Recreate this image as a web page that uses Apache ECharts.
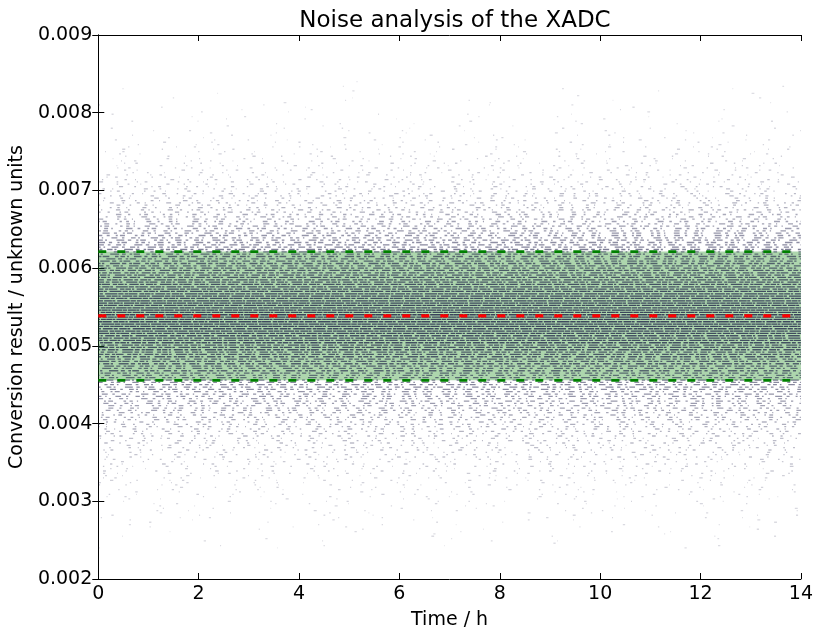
<!DOCTYPE html>
<html><head><meta charset="utf-8">
<script src="https://cdn.jsdelivr.net/npm/echarts@6/dist/echarts.min.js"></script>
<style>html,body{margin:0;padding:0;background:#fff}#c{width:816px;height:635px}</style>
</head><body><div id="c"></div>
<script>
// Time span of the measurement (h)
var timeSpan = [0, 14];
// Quantized conversion levels seen in the scatter
var levels = [
0.00240,0.00243,0.00246,0.00249,0.00252,0.00255,0.00258,0.00261,0.00264,0.00267,
0.00270,0.00273,0.00276,0.00279,0.00282,0.00285,0.00288,0.00291,0.00294,0.00297,
0.00300,0.00303,0.00306,0.00309,0.00312,0.00315,0.00318,0.00321,0.00324,0.00327,
0.00330,0.00333,0.00336,0.00339,0.00342,0.00345,0.00348,0.00351,0.00354,0.00357,
0.00360,0.00363,0.00366,0.00369,0.00372,0.00375,0.00378,0.00381,0.00384,0.00387,
0.00390,0.00393,0.00396,0.00399,0.00402,0.00405,0.00408,0.00411,0.00414,0.00417,
0.00420,0.00423,0.00426,0.00429,0.00432,0.00435,0.00438,0.00441,0.00444,0.00447,
0.00450,0.00453,0.00456,0.00459,0.00462,0.00465,0.00468,0.00471,0.00474,0.00477,
0.00480,0.00483,0.00486,0.00489,0.00492,0.00495,0.00498,0.00501,0.00504,0.00507,
0.00510,0.00513,0.00516,0.00519,0.00522,0.00525,0.00528,0.00531,0.00534,0.00537,
0.00540,0.00543,0.00546,0.00549,0.00552,0.00555,0.00558,0.00561,0.00564,0.00567,
0.00570,0.00573,0.00576,0.00579,0.00582,0.00585,0.00588,0.00591,0.00594,0.00597,
0.00600,0.00603,0.00606,0.00609,0.00612,0.00615,0.00618,0.00621,0.00624,0.00627,
0.00630,0.00633,0.00636,0.00639,0.00642,0.00645,0.00648,0.00651,0.00654,0.00657,
0.00660,0.00663,0.00666,0.00669,0.00672,0.00675,0.00678,0.00681,0.00684,0.00687,
0.00690,0.00693,0.00696,0.00699,0.00702,0.00705,0.00708,0.00711,0.00714,0.00717,
0.00720,0.00723,0.00726,0.00729,0.00732,0.00735,0.00738,0.00741,0.00744,0.00747,
0.00750,0.00753,0.00756,0.00759,0.00762,0.00765,0.00768,0.00771,0.00774,0.00777,
0.00780,0.00783,0.00786,0.00789,0.00792,0.00795,0.00798,0.00801,0.00804,0.00807,
0.00810,0.00813,0.00816,0.00819,0.00822,0.00825,0.00828,0.00831,0.00834,0.00837,
0.00840
];
// Fraction of time each level is occupied (read from dot density)
var density = [
0.004,0.006,0.003,0.008,0.005,0.007,0.004,0.009,0.006,0.008,
0.010,0.008,0.012,0.015,0.011,0.014,0.018,0.013,0.016,0.020,
0.022,0.018,0.026,0.030,0.024,0.033,0.028,0.036,0.031,0.040,
0.045,0.038,0.050,0.055,0.048,0.060,0.066,0.058,0.070,0.075,
0.080,0.072,0.090,0.098,0.085,0.105,0.115,0.100,0.125,0.135,
0.140,0.130,0.155,0.170,0.150,0.180,0.195,0.175,0.210,0.225,
0.235,0.220,0.255,0.275,0.250,0.290,0.310,0.285,0.330,0.350,
0.365,0.345,0.390,0.410,0.380,0.430,0.450,0.420,0.470,0.490,
0.500,0.480,0.530,0.550,0.520,0.570,0.590,0.560,0.610,0.620,
0.630,0.600,0.650,0.670,0.640,0.680,0.690,0.660,0.700,0.700,
0.700,0.680,0.700,0.690,0.660,0.680,0.670,0.640,0.660,0.650,
0.630,0.600,0.620,0.600,0.570,0.590,0.560,0.530,0.550,0.520,
0.500,0.470,0.490,0.460,0.430,0.450,0.420,0.390,0.410,0.380,
0.360,0.330,0.350,0.310,0.290,0.300,0.270,0.250,0.260,0.230,
0.220,0.200,0.210,0.185,0.170,0.175,0.155,0.140,0.150,0.130,
0.120,0.110,0.115,0.100,0.090,0.095,0.082,0.075,0.078,0.066,
0.060,0.055,0.058,0.048,0.044,0.046,0.038,0.034,0.036,0.030,
0.027,0.024,0.026,0.021,0.019,0.020,0.016,0.014,0.015,0.012,
0.011,0.010,0.010,0.008,0.008,0.008,0.007,0.006,0.006,0.005,
0.005,0.004,0.005,0.004,0.003,0.004,0.003,0.003,0.003,0.002,
0.002
];
// Statistics lines
var meanValue = 0.005385;
var bandLow = 0.004556;
var bandHigh = 0.006213;

var chart = echarts.init(document.getElementById('c'), null, {renderer: 'canvas'});
var FONT = 'DejaVu Sans';

var series = [];
series.push({
  type: 'line', z: 1, silent: true, symbol: 'none',
  data: [[timeSpan[0], bandLow], [timeSpan[1], bandLow]],
  lineStyle: {opacity: 0},
  markArea: {silent: true, itemStyle: {color: 'rgba(0,128,0,0.32)'},
    data: [[{xAxis: timeSpan[0], yAxis: bandLow}, {xAxis: timeSpan[1], yAxis: bandHigh}]]}
});
// irregular dash rhythm (style only)
var mults = [[1.0, 0.7], [0.4, 1.6], [1.7, 0.9], [0.7, 1.3], [1.3, 0.5], [0.5, 2.1], [2.1, 0.8], [0.9, 1.1], [0.6, 0.4], [1.5, 1.8], [0.8, 0.6]];
levels.forEach(function (lv, i) {
  var d = density[i];
  var c = Math.min(0.93, d * 1.3);
  var L = 1.3 + 7 * d;
  var G = Math.min(L * (1 - c) / c, 1500);
  var pat = [];
  var start = (i * 7 + ((i * i) % 5)) % mults.length;
  for (var k = 0; k < mults.length; k++) {
    var m = mults[(k + start) % mults.length];
    pat.push(L * m[0], G * m[1]);
  }
  var tot = pat.reduce(function (a, b) { return a + b; }, 0);
  var off = ((i * i * 7919 + i * 104729) % 100003) / 100003 * tot;
  series.push({
    type: 'line', z: 2, silent: true, symbol: 'none', animation: false,
    data: [[timeSpan[0], lv], [timeSpan[1], lv]],
    lineStyle: {color: 'rgb(18,18,62)', width: 1.3,
      opacity: 0.13 + 0.8 * Math.pow(d, 0.75),
      type: pat, dashOffset: off}
  });
});
function hline(v, color, w) {
  return {type: 'line', z: 5, silent: true, symbol: 'none',
    data: [[timeSpan[0], v], [timeSpan[1], v]],
    lineStyle: {color: color, width: w, type: [8, 11]}};
}
series.push(hline(bandLow, '#008000', 2.6));
series.push(hline(bandHigh, '#008000', 2.6));
series.push(hline(meanValue, '#ff0000', 3.3));

var lab = {fontFamily: FONT, fontSize: 19, color: '#000'};
chart.setOption({
  animation: false,
  title: {text: 'Noise analysis of the XADC', left: 450, top: 5, textAlign: 'center',
    textStyle: {fontFamily: FONT, fontSize: 23, fontWeight: 'normal', color: '#000'}},
  grid: {left: 98, right: 14, top: 35, bottom: 55, containLabel: false},
  xAxis: [
    {type: 'value', min: 0, max: 14, interval: 2, position: 'bottom',
     name: 'Time / h', nameLocation: 'middle', nameGap: 32,
     nameTextStyle: lab,
     axisLine: {lineStyle: {color: '#000', width: 1}},
     axisTick: {inside: true, length: 6, lineStyle: {color: '#000'}},
     axisLabel: Object.assign({margin: 6}, lab),
     splitLine: {show: false}},
    {type: 'value', min: 0, max: 14, interval: 2, position: 'top',
     axisLine: {lineStyle: {color: '#000', width: 1}},
     axisTick: {inside: true, length: 6, lineStyle: {color: '#000'}},
     axisLabel: {show: false}, splitLine: {show: false}}
  ],
  yAxis: [
    {type: 'value', min: 0.002, max: 0.009, interval: 0.001, position: 'left',
     name: 'Conversion result / unknown units', nameLocation: 'middle', nameGap: 68,
     nameTextStyle: lab,
     axisLine: {lineStyle: {color: '#000', width: 1}},
     axisTick: {inside: true, length: 6, lineStyle: {color: '#000'}},
     axisLabel: Object.assign({margin: 6, formatter: function (v) { return v.toFixed(3); }}, lab),
     splitLine: {show: false}},
    {type: 'value', min: 0.002, max: 0.009, interval: 0.001, position: 'right',
     axisLine: {lineStyle: {color: '#000', width: 1}},
     axisTick: {inside: true, length: 6, lineStyle: {color: '#000'}},
     axisLabel: {show: false}, splitLine: {show: false}}
  ],
  series: series
});
</script>
</body></html>
